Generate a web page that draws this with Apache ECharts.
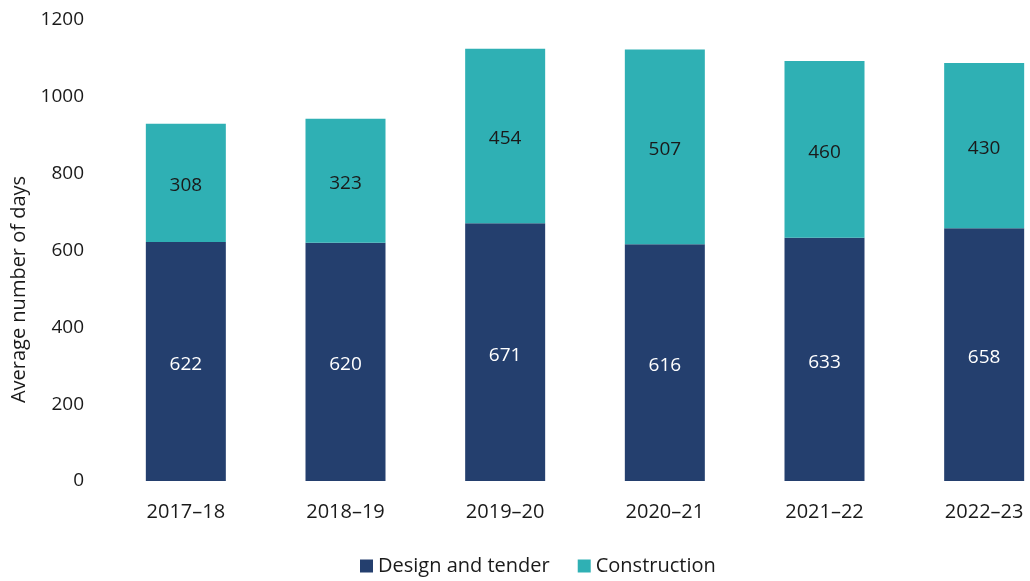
<!DOCTYPE html>
<html>
<head>
    <meta charset="UTF-8">
    <title>Average number of days</title>
    <script src="https://cdn.jsdelivr.net/npm/echarts@6/dist/echarts.min.js"></script>
    <style>
        html, body { margin: 0; padding: 0; background: #fff; }
        #chart { width: 1030px; height: 581px; }
    </style>
</head>
<body>
<div id="chart"></div>
<script>
    const years = ['2017–18', '2018–19', '2019–20', '2020–21', '2021–22', '2022–23'];
    const designTender = [622, 620, 671, 616, 633, 658];
    const construction = [308, 323, 454, 507, 460, 430];
    const yTicks = [0, 200, 400, 600, 800, 1000, 1200];

    const font = '"Open Sans", "Noto Sans", sans-serif';
    let myChart = echarts.init(document.getElementById('chart'));

    myChart.setOption({
        animation: false,
        textStyle: { fontFamily: font },
        grid: { left: 106, top: 20, width: 958, height: 461, outerBoundsMode: 'none' },
        legend: {
            bottom: 0,
            left: 355,
            itemWidth: 13,
            itemHeight: 13,
            itemGap: 28,
            icon: 'rect',
            textStyle: { fontSize: 20, color: '#1a1a1a', fontFamily: font },
            data: ['Design and tender', 'Construction']
        },
        xAxis: {
            type: 'category',
            data: years,
            axisLine: { show: false },
            axisTick: { show: false },
            axisLabel: { fontSize: 20, color: '#1a1a1a', margin: 21, fontFamily: font }
        },
        yAxis: {
            type: 'value',
            min: yTicks[0],
            max: yTicks[yTicks.length - 1],
            interval: 200,
            name: 'Average number of days',
            nameLocation: 'middle',
            nameGap: 66,
            nameTextStyle: { fontSize: 20, color: '#1a1a1a', fontFamily: font, padding: [0, 78, 0, 0] },
            splitLine: { show: false },
            axisLine: { show: false },
            axisTick: { show: false },
            axisLabel: { fontSize: 19, color: '#1a1a1a', margin: 22, fontFamily: font, formatter: v => String(v) }
        },
        series: [
            {
                name: 'Design and tender',
                type: 'bar',
                stack: 'total',
                barWidth: 80,
                itemStyle: { color: '#243F6E' },
                label: { show: true, position: 'inside', offset: [0, 3], color: '#fff', fontSize: 19, fontFamily: font },
                data: designTender
            },
            {
                name: 'Construction',
                type: 'bar',
                stack: 'total',
                barWidth: 80,
                itemStyle: { color: '#2FB0B4' },
                label: { show: true, position: 'inside', offset: [0, 3], color: '#1a1a1a', fontSize: 19, fontFamily: font },
                data: construction
            }
        ]
    });
</script>
</body>
</html>
